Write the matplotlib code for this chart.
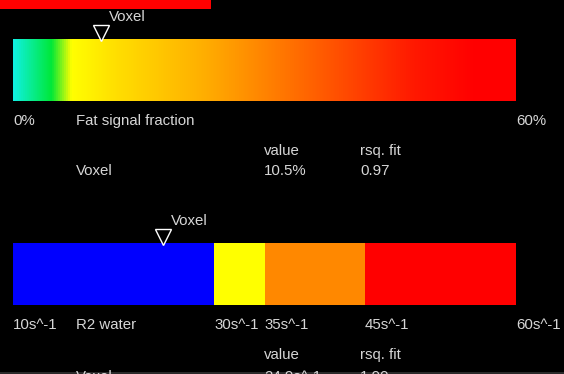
import numpy as np
import matplotlib
matplotlib.use("Agg")
import matplotlib.pyplot as plt
from matplotlib.colors import LinearSegmentedColormap
from matplotlib.transforms import blended_transform_factory, offset_copy

W, H, DPI = 564, 374, 100

# Fat signal fraction scale
fat_min, fat_max = 0, 60
fat_tick_values = [0, 60]
fat_tick_labels = ["0%", "60%"]
fat_voxel_value = 10.5
fat_voxel_text = "10.5%"
fat_voxel_rsq = "0.97"

# R2 water scale
r2_min, r2_max = 10, 60
r2_band_edges = [10, 30, 35, 45, 60]
r2_band_colors = ["#0000ff", "#ffff00", "#ff8800", "#ff0000"]
r2_tick_values = [10, 30, 35, 45, 60]
r2_tick_labels = ["10s^-1", "30s^-1", "35s^-1", "45s^-1", "60s^-1"]
r2_voxel_value = 24.9
r2_voxel_text = "24.9s^-1"
r2_voxel_rsq = "1.00"

# Fat fraction colour ramp: cyan -> green -> yellow -> orange -> red
fat_cmap = LinearSegmentedColormap.from_list(
    "fatmap",
    [(0.0, "#10f0e0"), (0.075, "#00e838"), (0.115, "#ffff00"),
     (0.20, "#ffe000"), (0.38, "#ffae00"), (0.60, "#ff6000"),
     (0.80, "#ff1800"), (0.92, "#ff0000"), (1.0, "#ff0000")])

TXT = "#d6d6d6"
FONT = dict(family="Liberation Sans", fontsize=10.8, color=TXT)

fig = plt.figure(figsize=(W / DPI, H / DPI), dpi=DPI, facecolor="black")


def px_axes(x0, y0, x1, y1):
    return fig.add_axes([x0 / W, 1 - y1 / H, (x1 - x0) / W, (y1 - y0) / H])


def ftext(x, y, s, **kw):
    fig.text(x / W, 1 - y / H, s, va="center", ha="left", **FONT, **kw)


def plain(ax, color="black"):
    ax.set_facecolor(color)
    ax.set_xticks([]); ax.set_yticks([])
    for sp in ax.spines.values():
        sp.set_visible(False)


# top status strip
plain(px_axes(0, 0, 211, 9), "#ff0000")


def voxel_marker(ax, value, label):
    ax.plot([value], [1.09], marker="v", markersize=11, mfc="black",
            mec="white", mew=1.0, clip_on=False, zorder=5)
    tr = offset_copy(ax.transData, fig=fig, x=8, y=0, units="dots")
    ax.text(value, 1.35, label, transform=tr, va="center", ha="left", **FONT)


# ---- Fat signal fraction bar ----
ax1 = px_axes(13, 39, 516, 101)
plain(ax1)
ax1.set_xlim(fat_min, fat_max)
ax1.set_ylim(0, 1)
grad = np.linspace(0, 1, 512)[None, :]
ax1.imshow(grad, cmap=fat_cmap, aspect="auto",
           extent=[fat_min, fat_max, 0, 1], interpolation="bilinear")
voxel_marker(ax1, fat_voxel_value, "Voxel")

tr1 = blended_transform_factory(ax1.transData, fig.transFigure)
for v, lab in zip(fat_tick_values, fat_tick_labels):
    ax1.text(v, 1 - 121 / H, lab, transform=tr1, va="center", ha="left", **FONT)
ftext(76, 121, "Fat signal fraction")
ftext(264, 151, "value")
ftext(360, 151, "rsq. fit")
ftext(76, 171, "Voxel")
ftext(264, 171, fat_voxel_text)
ftext(360, 171, fat_voxel_rsq)

# ---- R2 water bar ----
ax2 = px_axes(13, 243, 516, 305)
plain(ax2)
ax2.set_xlim(r2_min, r2_max)
ax2.set_ylim(0, 1)
for a, b, c in zip(r2_band_edges[:-1], r2_band_edges[1:], r2_band_colors):
    ax2.barh(0.5, b - a, left=a, height=1.0, color=c, linewidth=0)
voxel_marker(ax2, r2_voxel_value, "Voxel")

tr2 = blended_transform_factory(ax2.transData, fig.transFigure)
for v, lab in zip(r2_tick_values, r2_tick_labels):
    ax2.text(v, 1 - 325 / H, lab, transform=tr2, va="center", ha="left", **FONT)
ftext(76, 325, "R2 water")
ftext(264, 355, "value")
ftext(360, 355, "rsq. fit")
ftext(76, 377, "Voxel")
ftext(264, 377, r2_voxel_text)
ftext(360, 377, r2_voxel_rsq)

# bottom edge strip
plain(px_axes(0, 372, 564, 374), "#2a2a2a")

fig.savefig("out.png", dpi=DPI, facecolor="black")
